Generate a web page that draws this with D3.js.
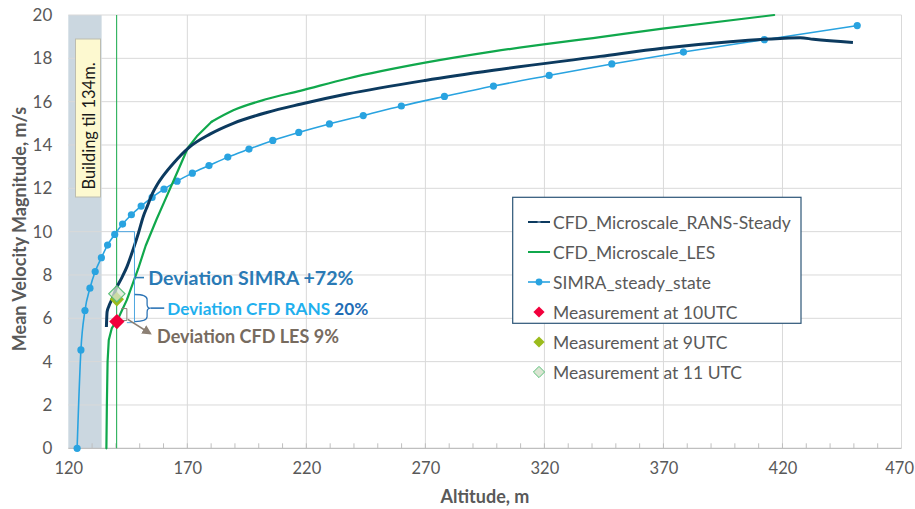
<!DOCTYPE html>
<html><head><meta charset="utf-8">
<script src="https://cdn.jsdelivr.net/npm/d3@7"></script>
<style>
html,body{margin:0;padding:0;background:#fff;}
svg{display:block;font-family:Lato,"Open Sans",sans-serif;}
</style></head>
<body>
<svg id="chart" width="915" height="509"></svg>
<script>
// ---------------- DATA ----------------
const xTicks = [120,170,220,270,320,370,420,470];
const yTicks = [0,2,4,6,8,10,12,14,16,18,20];

const ransAlt = [136.0,136.3,137.0,138.4,140.2,142.6,144.7,147.3,149.5,151.5,153.3,155.3,157.5,160.0,164.1,170.4,179.5,189.3,203.4,217.4,237.0,269.9,298.6,343.4,369.6,398.0,419.0,427.4,433.0,449.6];
const ransVel = [5.6,6.3,6.55,6.9,7.4,7.9,8.4,9.2,9.95,10.7,11.2,11.75,12.2,12.6,13.15,13.86,14.5,15.0,15.5,15.88,16.35,16.98,17.45,18.09,18.47,18.77,18.92,18.95,18.88,18.73];

const lesAlt = [136.0,136.2,136.5,137.0,138.3,141.0,144.6,149.4,152.5,157.0,161.0,166.0,170.2,174.0,180.2,189.3,203.4,217.4,237.0,269.9,298.6,343.4,369.6,416.5];
const lesVel = [0,2.0,4.0,5.0,5.55,6.0,6.85,8.3,9.35,10.55,11.55,12.8,13.86,14.4,15.07,15.6,16.12,16.5,17.06,17.8,18.32,18.98,19.37,20.0];

const simraAlt = [123.7,125.3,127.0,129.1,131.3,133.9,136.5,139.5,142.8,146.5,150.6,155.2,160.2,165.7,172.1,179.1,187.0,195.9,205.9,216.8,229.7,243.9,259.9,278.0,298.6,322.0,348.3,378.4,412.4,451.4];
const simraVel = [0,4.54,6.36,7.39,8.16,8.80,9.38,9.87,10.35,10.78,11.18,11.58,11.96,12.33,12.70,13.05,13.44,13.81,14.21,14.58,14.97,15.36,15.80,16.24,16.72,17.21,17.74,18.29,18.86,19.51];

const measAlt = 140.4;
const meas10 = 5.85;
const meas9 = 6.88;
const meas11 = 7.13;

const buildingTop = 134;
const markerLineAlt = 140.3;
const lesKinkAlt = 180.2;

const legendLabels = ["CFD_Microscale_RANS-Steady","CFD_Microscale_LES","SIMRA_steady_state","Measurement at 10UTC","Measurement at 9UTC","Measurement at 11 UTC"];

// ---------------- SETUP ----------------
const svg = d3.select("#chart");
const x = d3.scaleLinear().domain([120,470]).range([68.3,901.5]);
const y = d3.scaleLinear().domain([0,20]).range([448.3,15]);

const C = {
  rans:"#0c3a5f", les:"#10a84c", simra:"#29a3e0", grid:"#d9d9d9", text:"#595959",
  red:"#f2003c", yg:"#9bbb1c", open:"#dbe5d3", openStroke:"#5cc07a"
};

// building shading
svg.append("rect").attr("x",x(120)).attr("y",y(20)).attr("width",x(buildingTop)-x(120)).attr("height",y(0)-y(20)).attr("fill","#cbd7e0");

// gridlines
svg.append("g").selectAll("line").data(yTicks.filter(d=>d>0)).join("line")
  .attr("x1",x(120)).attr("x2",x(470)).attr("y1",d=>y(d)).attr("y2",d=>y(d))
  .attr("stroke",C.grid).attr("stroke-width",1);
svg.append("g").selectAll("line").data(xTicks.filter(d=>d>120)).join("line")
  .attr("x1",d=>x(d)).attr("x2",d=>x(d)).attr("y1",y(0)).attr("y2",y(20))
  .attr("stroke",C.grid).attr("stroke-width",1);

// bottom axis line + minor ticks
svg.append("line").attr("x1",x(120)).attr("x2",x(470)).attr("y1",y(0)).attr("y2",y(0)).attr("stroke","#bfbfbf").attr("stroke-width",1.2);
svg.append("g").selectAll("line").data(d3.range(130,470,10)).join("line")
  .attr("x1",d=>x(d)).attr("x2",d=>x(d)).attr("y1",y(0)).attr("y2",y(0)-5)
  .attr("stroke","#bfbfbf").attr("stroke-width",1);

// axes labels via d3 axes
const xAxis = d3.axisBottom(x).tickValues(xTicks).tickSize(0).tickPadding(14).tickFormat(d3.format("d"));
const gx = svg.append("g").attr("transform",`translate(0,${y(0)})`).call(xAxis);
gx.select(".domain").remove();
gx.selectAll("text").attr("font-size",16.5).attr("fill",C.text).attr("font-family","Lato,sans-serif");
// keep the last label inside the picture
gx.selectAll(".tick").filter(d=>d===470).select("text").attr("text-anchor","end").attr("dx",12);

const yAxis = d3.axisLeft(y).tickValues(yTicks).tickSize(0).tickPadding(16);
const gy = svg.append("g").attr("transform",`translate(${x(120)},0)`).call(yAxis);
gy.select(".domain").remove();
gy.selectAll("text").attr("font-size",17).attr("fill",C.text).attr("font-family","Lato,sans-serif");

// axis titles
svg.append("text").attr("transform","translate(26,229) rotate(-90)").attr("text-anchor","middle")
  .attr("font-size",18).attr("font-weight","bold").attr("fill",C.text).text("Mean Velocity Magnitude, m/s");
svg.append("text").attr("x",485).attr("y",503).attr("text-anchor","middle")
  .attr("font-size",18).attr("font-weight","bold").attr("fill",C.text).text("Altitude, m");

// building label
svg.append("rect").attr("x",75.5).attr("y",39).attr("width",25).attr("height",158)
  .attr("fill","#fdf9d0").attr("stroke","#bdbdb0").attr("stroke-width",1);
svg.append("text").attr("transform","translate(89,126) rotate(-90)").attr("text-anchor","middle")
  .attr("dominant-baseline","central").attr("font-size",16.5).attr("fill","#1a1a1a").text("Building til 134m.");

// vertical green marker line
svg.append("line").attr("x1",x(markerLineAlt)).attr("x2",x(markerLineAlt)).attr("y1",y(20)).attr("y2",y(0))
  .attr("stroke","#27b057").attr("stroke-width",1.1);

// series
const zip = (a,b)=>a.map((v,i)=>[v,b[i]]);
const line = d3.line().x(d=>x(d[0])).y(d=>y(d[1])).curve(d3.curveMonotoneX);
const lineLin = d3.line().x(d=>x(d[0])).y(d=>y(d[1]));

svg.append("path").attr("d",line(zip(simraAlt,simraVel))).attr("fill","none").attr("stroke",C.simra).attr("stroke-width",1.6);
svg.append("g").selectAll("circle").data(zip(simraAlt,simraVel)).join("circle")
  .attr("cx",d=>x(d[0])).attr("cy",d=>y(d[1])).attr("r",3.6).attr("fill",C.simra);

const lesPts = zip(lesAlt,lesVel);
svg.append("path").attr("d",lineLin(lesPts.filter(d=>d[0]<=lesKinkAlt))).attr("fill","none").attr("stroke",C.les).attr("stroke-width",2.2).attr("stroke-linejoin","round").attr("stroke-linecap","round");
svg.append("path").attr("d",line(lesPts.filter(d=>d[0]>=lesKinkAlt))).attr("fill","none").attr("stroke",C.les).attr("stroke-width",2.2).attr("stroke-linecap","round");
svg.append("path").attr("d",line(zip(ransAlt,ransVel))).attr("fill","none").attr("stroke",C.rans).attr("stroke-width",3);

// annotations: brackets
const ann = svg.append("g").attr("fill","none");
// SIMRA bracket
ann.append("path").attr("d",`M${x(140.6)},${y(10.0)} H${x(147.8)} V${y(5.8)} H${x(144.6)}`)
  .attr("stroke","#4ea6e0").attr("stroke-width",1);
ann.append("path").attr("d",`M${x(147.8)},${y(7.88)} H${x(151.8)}`).attr("stroke","#2e7cb5").attr("stroke-width",1.6);
// RANS brace
{
  const xl=x(147.9), xv=x(153.1), xt=x(154.5), yt=y(7.1), yb=y(5.85), ym=y(6.47);
  ann.append("path").attr("d",
    `M${xl},${yt} Q${xv},${yt} ${xv},${yt+5} V${ym-4} Q${xv},${ym} ${xt},${ym} Q${xv},${ym} ${xv},${ym+4} V${yb-5} Q${xv},${yb} ${xl},${yb}`)
    .attr("stroke","#2e75b6").attr("stroke-width",1.3);
  ann.append("path").attr("d",`M${xt},${ym} H${x(160.3)}`).attr("stroke","#2e75b6").attr("stroke-width",1.6);
}
// LES small bracket + arrow
ann.append("path").attr("d",`M${x(142.3)},${y(6.45)} H${x(144.6)} V${y(5.9)} H${x(142.8)}`)
  .attr("stroke","#8c8074").attr("stroke-width",1);
svg.append("defs").append("marker").attr("id","arr").attr("viewBox","0 0 10 10").attr("refX",8).attr("refY",5)
  .attr("markerWidth",6).attr("markerHeight",6).attr("orient","auto")
  .append("path").attr("d","M0,0 L10,5 L0,10 z").attr("fill","#8c8074");
ann.append("line").attr("x1",x(145.0)).attr("y1",y(5.95)).attr("x2",x(154.4)).attr("y2",y(5.3))
  .attr("stroke","#8c8074").attr("stroke-width",1.6).attr("marker-end","url(#arr)");

// annotation texts
svg.append("text").attr("x",x(153.6)).attr("y",y(7.88)).attr("dominant-baseline","central")
  .attr("font-size",19.6).attr("font-weight","bold").attr("fill","#2a7ab5").text("Deviation SIMRA +72%");
const tR = svg.append("text").attr("x",x(161.6)).attr("y",y(6.47)).attr("dominant-baseline","central")
  .attr("font-size",17.2).attr("font-weight","bold");
tR.append("tspan").attr("fill","#1fb0ee").text("Deviation CFD RANS ");
tR.append("tspan").attr("fill","#1f6db5").text("20%");
svg.append("text").attr("x",x(157.3)).attr("y",y(5.2)).attr("dominant-baseline","central")
  .attr("font-size",18).attr("font-weight","bold").attr("fill","#776b5f").text("Deviation CFD LES 9%");

// measurements
const diamond = d3.symbol().type(d3.symbolDiamond2);
svg.append("path").attr("d",diamond.size(150)()).attr("transform",`translate(${x(measAlt)},${y(meas10)})`).attr("fill",C.red);
svg.append("path").attr("d",diamond.size(130)()).attr("transform",`translate(${x(measAlt)},${y(meas9)})`).attr("fill",C.yg);
svg.append("path").attr("d",diamond.size(170)()).attr("transform",`translate(${x(measAlt)},${y(meas11)})`)
  .attr("fill",C.open).attr("fill-opacity",0.75).attr("stroke",C.openStroke).attr("stroke-width",1.2);

// legend
const lg = svg.append("g");
lg.append("rect").attr("x",512.7).attr("y",197.3).attr("width",288.3).attr("height",126)
  .attr("fill","#fff").attr("stroke","#2c5577").attr("stroke-width",1.2);
const rowY = i => 222 + i*30;
const sx0 = 528, sx1 = 550, sxm = 539;
// RANS
lg.append("line").attr("x1",sx0).attr("x2",sx1).attr("y1",rowY(0)).attr("y2",rowY(0)).attr("stroke",C.rans).attr("stroke-width",2);
lg.append("line").attr("x1",sxm-1.5).attr("x2",sxm+1.5).attr("y1",rowY(0)).attr("y2",rowY(0)).attr("stroke","#5b7f9e").attr("stroke-width",2);
// LES
lg.append("line").attr("x1",sx0).attr("x2",sx1).attr("y1",rowY(1)).attr("y2",rowY(1)).attr("stroke",C.les).attr("stroke-width",2);
// SIMRA
lg.append("line").attr("x1",sx0).attr("x2",sx1).attr("y1",rowY(2)).attr("y2",rowY(2)).attr("stroke",C.simra).attr("stroke-width",1.6);
lg.append("circle").attr("cx",sxm).attr("cy",rowY(2)).attr("r",3.4).attr("fill",C.simra);
// diamonds
lg.append("path").attr("d",diamond.size(80)()).attr("transform",`translate(${sxm},${rowY(3)})`).attr("fill",C.red);
lg.append("path").attr("d",diamond.size(80)()).attr("transform",`translate(${sxm},${rowY(4)})`).attr("fill",C.yg);
lg.append("path").attr("d",diamond.size(80)()).attr("transform",`translate(${sxm},${rowY(5)})`)
  .attr("fill",C.open).attr("stroke",C.openStroke).attr("stroke-width",1);
lg.selectAll("text.lab").data(legendLabels).join("text").attr("class","lab")
  .attr("x",553).attr("y",(d,i)=>rowY(i)).attr("dominant-baseline","central")
  .attr("font-size",17.5).attr("fill",C.text).text(d=>d);
</script>
</body></html>
